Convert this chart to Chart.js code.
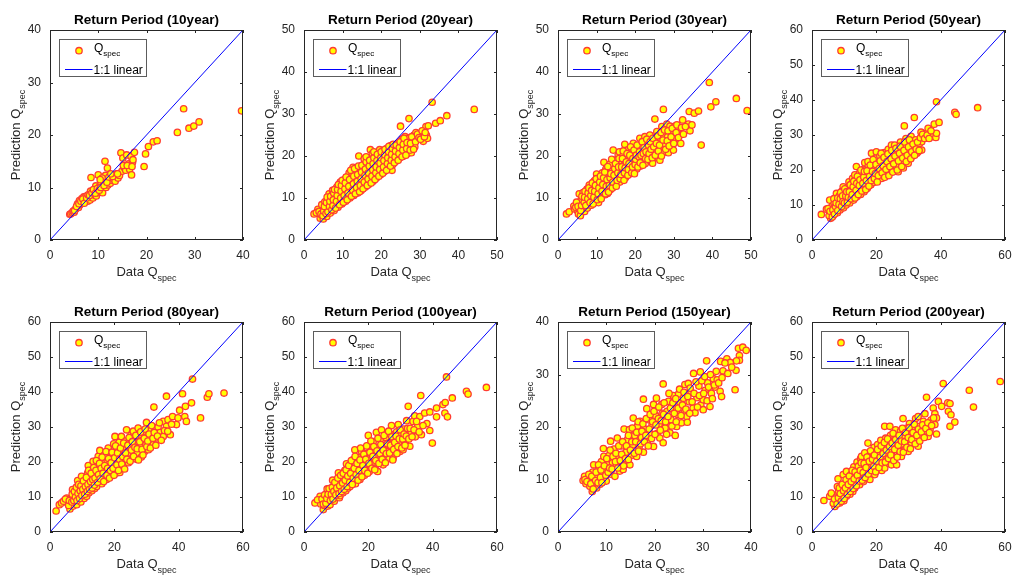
<!DOCTYPE html>
<html lang="en">
<head>
  <meta charset="UTF-8">
  <title>Return Period scatter</title>
  <script src="https://cdn.jsdelivr.net/npm/chart.js"></script>
  <style>
    html, body {
      margin: 0;
      padding: 0;
      background: #fff;
      overflow: hidden;
    }
    #wrap {
      position: relative;
      width: 1012px;
      height: 578px;
    }
    canvas {
      position: absolute;
    }
  </style>
</head>
<body>
  <div id="wrap"></div>

  <script>
    // Return periods (one panel each)
    const returnPeriods = [10, 20, 30, 50, 80, 100, 150, 200];
    const axisMax = [40, 50, 50, 60, 60, 60, 40, 60];
    const xTickStep = [10, 10, 10, 20, 20, 20, 10, 20];
    const yTickStep = [10, 10, 10, 10, 10, 10, 10, 10];

    // [Data Qspec, Prediction Qspec]
    const rp10 = [[4.1,4.9],[4.3,5.0],[4.6,5.2],[4.8,5.5],[5.0,5.3],[5.2,5.8],[5.4,6.0],[5.6,6.3],[5.7,6.9],[5.9,6.2],[6.1,7.5],[6.2,6.7],[6.5,7.0],[6.6,7.9],[6.9,7.3],[7.0,8.2],[7.3,7.6],[7.4,8.3],[7.8,7.4],[8.1,7.9],[8.3,7.6],[8.4,9.3],[8.5,11.9],[8.6,8.3],[8.9,8.0],[9.1,8.6],[9.3,9.4],[9.5,10.3],[9.6,8.4],[9.9,9.0],[10.0,12.4],[10.1,9.8],[10.3,10.2],[10.6,10.8],[10.9,9.0],[11.0,11.3],[11.4,15.0],[11.5,12.3],[11.6,10.0],[11.9,13.7],[12.0,10.5],[12.3,11.2],[12.5,10.8],[12.8,11.4],[13.2,11.6],[13.5,11.2],[13.8,12.6],[14.1,11.8],[14.4,12.3],[14.7,16.6],[14.9,13.1],[15.1,15.6],[15.4,13.8],[15.7,13.3],[15.9,16.2],[16.3,14.5],[16.5,13.5],[16.8,15.9],[16.9,12.4],[17.1,14.8],[17.2,15.3],[17.5,16.7],[19.5,14.0],[19.8,16.4],[20.4,17.8],[21.4,18.7],[22.2,18.9],[26.4,20.5],[27.7,25.0],[28.8,21.3],[29.8,21.7],[30.9,22.5],[39.7,24.6],
      [5.1,5.6],[5.5,6.4],[6.0,6.9],[6.4,7.4],[6.8,7.8],[7.1,7.0],[7.6,8.0],[7.9,8.6],[8.2,8.5],[8.7,9.0],[9.0,9.6],[9.4,8.9],[9.8,9.8],[10.2,9.5],[10.5,10.0],[10.8,11.8],[11.2,10.4],[11.8,11.0],[12.2,12.0],[13.0,12.1],[14.0,12.6],[15.2,14.2],[16.0,14.2],[17.0,14.0],[12.6,12.6],[10.4,11.5]];

    const rp20 = [[2.6,6.2],[3.6,7.3],[4.2,5.2],[4.5,6.0],[4.8,7.2],[4.6,8.4],[5.0,5.0],[5.2,6.6],[5.4,9.1],[5.5,7.8],[5.9,5.6],[6.1,7.0],[6.3,8.4],[6.4,9.9],[6.5,11.0],[6.8,6.4],[7.0,7.8],[7.1,9.3],[7.3,10.6],[7.4,11.8],[7.8,7.0],[8.0,8.6],[8.1,10.0],[8.3,11.4],[8.5,12.6],[8.8,7.8],[9.0,9.4],[9.1,10.9],[9.3,12.3],[9.4,13.8],[9.8,8.6],[10.0,10.0],[10.1,11.5],[10.3,13.0],[10.5,14.4],[10.8,9.2],[11.0,10.7],[11.1,12.2],[11.3,13.6],[11.5,15.2],[11.7,16.0],[11.9,10.0],[12.0,11.4],[12.2,12.8],[12.3,14.3],[12.5,15.8],[12.7,17.3],[12.9,10.6],[13.0,12.0],[13.2,13.5],[13.4,15.0],[13.6,16.5],[13.9,11.2],[14.0,12.7],[14.2,14.2],[14.3,15.7],[14.2,20.0],[14.5,17.2],[14.8,11.8],[15.0,13.4],[15.1,15.0],[15.3,16.5],[15.5,18.0],[15.6,19.3],[15.9,12.6],[16.0,14.1],[16.2,15.7],[16.3,17.2],[16.5,18.6],[16.8,13.3],[17.0,14.9],[17.1,16.4],[17.2,21.5],[17.3,17.9],[17.5,19.4],[17.7,20.6],[17.9,14.0],[18.0,15.6],[18.2,17.0],[18.3,18.5],[18.5,20.0],[18.8,14.8],[19.0,16.3],[19.1,17.8],[19.3,19.2],[19.5,20.6],[19.6,21.5],[19.9,15.6],[20.0,17.0],[20.2,18.5],[20.3,20.0],[20.5,21.3],[20.8,16.3],[21.0,17.8],[21.1,19.2],[21.3,20.6],[21.5,21.8],[21.9,17.0],[22.0,18.4],[22.2,19.8],[22.3,21.0],[22.5,22.5],[22.8,16.6],[23.0,18.0],[23.1,19.4],[23.3,20.8],[23.5,22.2],[23.9,18.8],[24.0,20.3],[24.2,21.6],[24.4,23.0],[24.8,19.6],[25.0,21.0],[25.0,27.1],[25.2,22.5],[25.4,24.0],[25.8,20.0],[26.0,21.5],[26.1,23.0],[26.2,24.6],[26.8,20.6],[27.0,22.2],[27.1,23.6],[27.2,28.9],[27.3,24.3],[27.8,20.8],[28.0,22.5],[28.2,24.2],[28.5,25.0],[28.7,22.2],[29.1,24.6],[29.0,25.6],[30.0,25.3],[30.4,25.0],[30.9,23.5],[31.6,27.0],[31.7,25.0],[32.0,24.2],[32.2,27.2],[33.2,32.8],[34.1,27.8],[35.3,28.4],[37.0,29.6],[44.1,31.1],
      [3.2,6.5],[3.9,6.8],[4.4,6.2],[4.9,5.8],[5.1,6.9],[5.3,8.0],[5.7,6.3],[5.8,8.9],[6.0,10.2],[6.2,6.7],[6.6,8.0],[6.7,9.2],[6.9,10.4],[7.2,7.2],[7.5,8.2],[7.6,9.6],[7.7,11.2],[7.9,12.0],[8.2,7.6],[8.4,9.2],[8.6,10.6],[8.7,12.0],[8.9,13.2],[9.2,8.4],[9.5,10.0],[9.6,11.6],[9.7,13.0],[9.9,14.2],[10.2,9.0],[10.4,10.6],[10.6,12.2],[10.7,13.6],[10.9,15.0],[11.2,9.6],[11.4,11.2],[11.6,12.8],[11.8,14.4],[12.1,16.6],[12.3,10.4],[12.6,11.9],[12.8,13.4],[12.9,15.2],[13.1,17.0],[13.3,11.0],[13.6,12.5],[13.8,14.0],[13.9,15.6],[14.1,17.6],[14.4,11.5],[14.6,13.0],[14.8,14.6],[14.9,16.2],[15.0,17.8],[15.3,12.2],[15.6,13.8],[15.8,15.4],[15.9,16.9],[16.1,18.6],[16.1,19.8],[16.4,13.0],[16.6,14.5],[16.7,16.0],[16.9,17.6],[17.0,19.0],[17.4,13.6],[17.6,15.2],[17.8,16.7],[17.9,18.2],[18.1,19.6],[18.1,21.0],[18.4,14.4],[18.6,16.0],[18.7,17.4],[18.9,18.9],[19.0,20.4],[19.4,15.2],[19.6,16.8],[19.7,18.3],[19.9,19.6],[20.0,21.0],[20.4,15.9],[20.6,17.4],[20.7,18.9],[20.9,20.3],[21.0,21.6],[21.4,16.6],[21.6,18.2],[21.7,19.6],[21.9,21.0],[22.0,22.3],[22.4,17.6],[22.6,19.0],[22.7,20.4],[22.9,21.8],[23.1,22.8],[23.4,18.4],[23.6,19.8],[23.7,21.2],[23.9,22.6],[24.4,19.0],[24.6,20.6],[24.7,22.0],[24.9,23.4],[25.4,19.8],[25.6,21.4],[25.7,22.8],[25.9,24.2],[26.4,20.2],[26.6,21.8],[26.7,23.2],[27.5,21.4],[27.6,23.0],[27.9,24.6],[28.4,21.6],[28.9,23.4],[29.4,25.2],[29.8,24.4],[30.2,24.0],[30.6,26.0],[31.2,24.6],[31.4,25.6]];

    const rp30 = [[2.2,6.2],[2.9,6.7],[4.1,8.1],[4.3,7.4],[5.0,7.0],[5.3,6.2],[5.5,11.0],[5.6,8.5],[5.8,5.8],[6.0,9.6],[6.3,7.3],[6.5,11.3],[6.6,8.2],[6.9,6.8],[7.1,9.4],[7.3,10.6],[7.5,12.1],[7.6,7.6],[7.9,8.8],[8.1,13.1],[8.2,10.0],[8.4,11.5],[8.6,8.3],[8.8,12.6],[9.0,9.5],[9.2,10.9],[9.4,14.1],[9.6,9.0],[9.8,12.2],[10.0,15.7],[10.1,10.4],[10.3,13.4],[10.5,8.9],[10.7,11.7],[10.9,14.6],[11.1,10.1],[11.3,12.9],[11.5,16.0],[11.7,11.2],[11.9,18.5],[12.0,14.2],[12.2,10.8],[12.4,16.9],[12.6,12.4],[12.8,11.1],[13.0,15.4],[13.2,13.7],[13.4,18.0],[13.6,12.0],[13.8,16.4],[14.0,14.6],[14.3,21.4],[14.4,12.8],[14.6,19.0],[14.8,15.9],[15.0,13.6],[15.2,17.6],[15.4,14.7],[15.6,20.3],[15.9,21.0],[16.0,13.8],[16.2,16.6],[16.4,18.9],[16.6,15.2],[16.8,20.0],[17.0,17.8],[17.3,22.8],[17.5,14.9],[17.6,19.5],[17.8,16.2],[18.0,21.4],[18.3,17.5],[18.5,19.0],[18.7,15.8],[19.0,20.8],[19.2,18.2],[19.5,23.0],[19.6,16.5],[19.9,19.7],[20.2,21.8],[20.4,16.9],[20.6,18.8],[20.9,20.6],[21.2,24.2],[21.4,17.6],[21.6,22.5],[21.9,19.5],[22.2,21.2],[22.5,24.6],[22.6,18.2],[22.9,23.0],[23.2,20.0],[23.5,21.9],[23.8,25.0],[24.0,18.8],[24.3,23.2],[24.5,18.3],[24.7,20.8],[25.0,22.4],[25.1,28.8],[25.3,24.4],[25.6,25.8],[25.9,19.6],[26.2,21.7],[26.4,19.0],[26.6,23.6],[26.9,27.0],[27.1,25.2],[27.3,31.1],[27.5,20.9],[27.8,22.8],[28.2,27.6],[28.4,24.6],[28.6,20.8],[29.0,27.1],[29.2,23.2],[29.5,25.6],[29.9,21.4],[30.3,27.1],[30.5,24.2],[31.0,26.2],[31.6,25.0],[31.8,23.0],[32.3,28.6],[33.8,27.6],[34.0,30.6],[34.2,26.0],[34.7,27.4],[35.3,30.2],[36.4,30.7],[37.1,22.6],[39.2,37.5],[39.6,31.7],[40.9,32.9],[46.2,33.7],[49.0,30.8],
      [4.6,7.8],[4.8,9.0],[5.2,8.0],[5.9,7.0],[6.1,8.2],[6.2,10.4],[6.8,9.0],[6.9,10.2],[7.0,11.6],[7.2,8.2],[7.7,9.8],[7.8,11.2],[8.0,12.4],[8.3,8.9],[8.5,10.6],[8.7,11.8],[8.9,13.6],[9.1,8.6],[9.3,10.2],[9.5,11.6],[9.7,13.0],[9.9,14.6],[10.2,9.6],[10.4,11.0],[10.6,12.4],[10.8,13.8],[11.0,15.2],[11.2,9.8],[11.4,11.6],[11.6,13.2],[11.8,14.8],[12.1,16.2],[12.3,11.0],[12.5,12.8],[12.7,14.4],[12.9,17.5],[13.1,11.4],[13.3,13.0],[13.5,14.8],[13.7,15.8],[13.9,19.2],[14.1,12.4],[14.2,13.8],[14.5,15.4],[14.7,17.0],[14.9,18.2],[15.1,12.8],[15.3,14.2],[15.5,16.0],[15.7,17.4],[15.8,19.4],[16.1,14.6],[16.3,15.6],[16.5,17.4],[16.7,19.4],[16.9,21.2],[17.1,14.2],[17.2,16.0],[17.4,17.2],[17.7,18.6],[17.9,20.6],[18.1,15.4],[18.2,16.8],[18.4,18.2],[18.6,20.2],[18.8,22.2],[19.1,16.0],[19.3,17.4],[19.4,19.4],[19.7,21.4],[19.8,15.8],[20.0,18.0],[20.1,19.2],[20.3,20.2],[20.5,22.6],[20.7,17.4],[21.0,19.8],[21.1,21.0],[21.3,18.4],[21.5,20.2],[21.8,23.4],[22.0,17.8],[22.1,20.6],[22.3,22.0],[22.7,19.4],[22.8,21.0],[23.0,24.0],[23.3,19.2],[23.4,22.6],[23.6,20.6],[23.9,23.4],[24.1,21.6],[24.4,19.6],[24.6,24.2],[24.8,22.2],[25.2,20.2],[25.5,23.0],[25.8,24.8],[26.0,21.2],[26.3,22.6],[26.7,25.6],[26.8,20.0],[27.2,23.8],[27.6,26.2],[27.9,21.6],[28.3,23.6],[28.5,26.0],[28.8,22.4],[29.3,24.6],[29.6,26.6],[30.0,23.0],[30.6,25.6],[30.8,27.4],[31.2,24.4],[32.0,26.8],[32.5,25.2],[33.0,27.0]];

    const rp50 = [[2.9,7.3],[4.5,8.8],[5.5,11.4],[5.8,6.2],[6.0,8.0],[6.2,9.6],[6.6,7.0],[6.9,10.4],[7.2,8.2],[7.6,13.3],[7.7,11.6],[7.9,7.8],[8.2,9.4],[8.5,12.6],[8.7,8.6],[9.0,10.8],[9.3,14.0],[9.7,15.2],[9.8,9.2],[10.0,12.0],[10.3,13.6],[10.6,10.0],[10.9,11.4],[11.2,15.0],[11.5,16.6],[11.7,10.6],[12.0,12.8],[12.3,14.4],[12.6,17.6],[12.9,11.4],[13.1,13.4],[13.3,18.6],[13.5,15.6],[13.8,21.0],[14.0,12.4],[14.2,16.8],[14.5,14.3],[14.8,19.2],[15.1,13.0],[15.4,15.5],[15.7,17.9],[16.0,20.2],[16.2,13.8],[16.4,22.1],[16.6,16.4],[16.9,18.8],[17.2,14.8],[17.5,21.2],[17.7,17.3],[18.0,19.8],[18.3,15.8],[18.5,24.8],[18.7,22.5],[19.0,18.0],[19.3,16.5],[19.5,20.6],[19.8,23.4],[20.0,25.2],[20.2,17.4],[20.5,19.4],[20.8,21.8],[21.1,24.0],[21.4,18.2],[21.6,17.6],[21.9,20.4],[22.2,22.8],[22.5,25.0],[22.8,19.0],[23.1,21.2],[23.4,23.6],[23.7,25.9],[24.0,19.6],[24.3,22.0],[24.7,27.1],[24.9,24.4],[25.2,20.4],[25.5,22.6],[25.7,27.1],[26.0,25.0],[26.3,21.0],[26.6,23.4],[26.8,19.5],[27.1,26.0],[27.5,28.0],[27.8,22.2],[28.1,24.6],[28.4,20.6],[28.7,32.6],[28.9,27.0],[29.2,29.0],[29.5,23.2],[29.9,21.9],[30.2,25.4],[30.5,27.8],[30.8,29.6],[31.2,24.0],[31.6,26.6],[31.8,35.0],[32.2,28.6],[32.6,24.8],[33.0,25.2],[33.4,27.6],[33.9,30.8],[34.1,28.1],[34.1,25.7],[35.4,30.5],[36.1,31.9],[36.7,30.5],[37.2,29.5],[38.0,33.1],[38.5,29.3],[38.7,30.5],[38.7,39.5],[39.5,33.6],[44.4,36.5],[44.8,35.9],[51.5,37.8],
      [5.0,9.0],[5.3,7.0],[5.6,8.2],[6.3,6.6],[6.5,8.6],[6.8,11.8],[7.0,7.4],[7.3,9.6],[7.5,10.6],[8.0,8.4],[8.0,12.0],[8.4,10.2],[8.8,11.8],[8.9,13.6],[9.2,9.6],[9.5,12.6],[9.6,11.0],[10.1,10.6],[10.2,14.6],[10.5,12.6],[10.8,13.8],[11.0,10.8],[11.3,12.2],[11.6,13.8],[11.9,15.8],[12.2,11.8],[12.5,13.0],[12.8,15.2],[13.0,16.8],[13.4,12.0],[13.7,14.2],[13.9,16.2],[14.1,18.2],[14.4,13.0],[14.7,15.6],[14.9,17.2],[15.2,20.0],[15.5,14.0],[15.8,16.2],[16.1,18.0],[16.3,19.6],[16.7,14.4],[16.9,17.0],[17.1,19.8],[17.4,22.4],[17.7,15.4],[17.9,18.2],[18.1,21.4],[18.4,17.0],[18.8,19.6],[19.0,23.0],[19.4,17.6],[19.7,19.0],[19.9,21.6],[20.3,16.6],[20.6,18.4],[20.9,20.4],[21.2,22.6],[21.5,24.8],[21.8,19.2],[22.1,21.2],[22.4,23.6],[22.6,17.9],[23.0,20.2],[23.3,22.4],[23.6,24.6],[23.9,18.4],[24.2,21.0],[24.6,23.2],[24.8,25.6],[25.1,19.4],[25.4,21.8],[25.8,24.0],[26.1,26.2],[26.5,20.0],[26.9,22.6],[27.2,24.8],[27.4,26.8],[27.9,21.0],[28.2,23.4],[28.6,25.6],[28.8,28.0],[29.3,22.4],[29.6,24.2],[30.0,26.6],[30.3,28.6],[30.7,23.2],[31.0,25.2],[31.4,27.4],[31.9,24.2],[32.4,26.0],[32.8,28.0],[33.3,25.6],[33.7,29.2],[34.4,30.2],[35.0,29.0],[35.8,30.0],[36.4,29.0],[37.0,31.2]];

    const rp80 = [[1.9,6.0],[2.9,7.8],[3.6,8.3],[5.2,9.7],[6.2,6.6],[6.4,8.0],[6.6,9.4],[7.0,12.1],[7.2,7.4],[7.5,10.2],[7.8,8.4],[8.1,11.3],[8.3,7.8],[8.6,14.7],[8.8,9.2],[9.0,12.4],[9.3,10.4],[9.6,8.6],[9.8,15.9],[10.0,11.0],[10.3,13.4],[10.6,9.6],[10.9,12.0],[11.2,14.6],[11.4,10.2],[11.7,16.8],[11.9,19.0],[12.1,11.2],[12.4,13.4],[12.7,15.8],[13.0,11.8],[13.2,17.9],[13.4,20.2],[13.6,14.0],[13.9,12.4],[14.2,16.2],[14.5,13.0],[14.7,18.8],[15.0,21.6],[15.3,14.6],[15.5,23.3],[15.8,17.0],[16.1,13.8],[16.4,19.6],[16.6,15.4],[16.9,22.0],[17.2,17.8],[17.6,15.0],[17.8,20.4],[18.1,24.0],[18.3,16.4],[18.6,18.6],[18.9,22.6],[19.2,17.0],[19.5,20.8],[19.8,25.2],[20.2,27.3],[20.3,18.0],[20.6,23.0],[20.9,16.9],[21.2,19.8],[21.5,25.6],[21.7,17.0],[22.0,21.8],[22.2,27.3],[22.5,23.8],[22.8,18.6],[23.1,20.4],[23.5,26.0],[23.8,29.2],[24.1,22.2],[24.4,19.8],[24.8,24.4],[25.1,27.6],[25.4,21.0],[25.9,28.8],[26.2,23.2],[26.5,25.8],[26.9,20.8],[27.2,22.6],[27.4,29.7],[27.7,27.0],[28.0,24.4],[28.4,21.4],[28.7,26.2],[29.0,28.4],[29.4,23.0],[29.8,25.0],[30.0,31.3],[30.2,27.2],[30.6,23.5],[31.0,29.0],[31.4,25.6],[31.8,27.8],[32.1,25.0],[32.3,35.7],[32.6,29.8],[33.1,26.9],[33.6,30.0],[34.2,28.4],[35.2,31.6],[35.2,27.3],[36.2,38.8],[36.2,30.2],[36.7,32.1],[37.4,27.8],[38.1,33.0],[39.3,30.7],[39.8,32.6],[40.3,34.8],[41.2,39.5],[41.9,33.0],[42.1,35.9],[42.4,31.6],[44.0,36.9],[44.3,43.7],[46.8,32.6],[48.9,38.5],[49.4,39.5],[54.1,39.7],
      [4.2,8.8],[4.8,9.4],[5.8,7.6],[6.0,9.0],[6.8,8.6],[6.9,10.8],[7.4,9.0],[7.6,11.6],[7.9,10.0],[8.2,12.8],[8.4,9.0],[8.7,11.0],[8.9,13.6],[9.2,9.6],[9.4,11.8],[9.6,13.2],[9.9,10.4],[10.2,12.2],[10.4,14.6],[10.8,10.8],[11.0,13.0],[11.3,15.6],[11.6,11.6],[11.8,13.6],[12.0,17.6],[12.3,12.2],[12.6,14.4],[12.8,16.8],[13.1,12.6],[13.3,15.0],[13.6,18.4],[13.8,13.4],[14.0,15.4],[14.3,17.6],[14.4,20.4],[14.8,14.2],[15.1,16.4],[15.4,19.6],[15.6,15.2],[15.9,18.2],[16.2,21.4],[16.5,16.8],[16.7,14.4],[17.0,19.0],[17.4,23.0],[17.7,16.2],[17.9,18.2],[18.2,21.0],[18.5,15.4],[18.8,17.6],[19.0,19.8],[19.3,22.8],[19.6,18.2],[19.9,16.2],[20.1,21.2],[20.4,24.6],[20.8,19.2],[21.0,22.6],[21.3,17.6],[21.6,20.8],[21.9,24.0],[22.3,19.4],[22.6,21.6],[22.9,25.4],[23.2,18.0],[23.5,22.6],[23.9,20.8],[24.2,24.8],[24.6,27.0],[24.9,20.2],[25.3,23.4],[25.6,25.8],[26.0,21.6],[26.4,24.2],[26.7,27.6],[27.1,23.8],[27.5,20.6],[27.9,25.8],[28.2,28.6],[28.6,23.6],[28.9,22.0],[29.3,26.8],[29.6,29.4],[30.1,24.4],[30.4,26.0],[30.8,28.0],[31.2,24.0],[31.6,30.4],[32.0,26.8],[32.4,28.4],[32.9,24.8],[33.4,27.4],[34.0,31.2],[34.6,26.2],[35.6,29.0],[36.6,28.8],[37.8,30.8]];

    const rp100 = [[3.4,8.3],[5.0,10.2],[5.2,8.0],[6.0,6.4],[6.3,7.6],[6.6,9.0],[7.0,11.0],[7.2,12.3],[7.4,7.4],[7.7,8.8],[8.0,10.4],[8.1,7.8],[8.4,12.0],[8.7,9.4],[8.9,14.8],[9.1,11.0],[9.4,8.8],[9.7,13.2],[10.0,10.0],[10.3,11.8],[10.7,16.9],[10.6,14.0],[11.0,9.8],[11.2,10.4],[11.5,12.6],[11.8,15.2],[12.1,11.2],[12.4,13.8],[12.7,17.6],[13.0,11.8],[13.2,19.5],[13.4,15.0],[13.7,12.6],[14.0,16.6],[14.3,13.0],[14.6,18.4],[14.9,14.4],[15.2,20.6],[15.5,16.0],[15.8,23.5],[16.0,13.8],[16.3,17.8],[16.6,15.2],[16.9,21.2],[17.2,19.2],[17.4,15.0],[17.7,16.6],[17.9,23.0],[18.2,18.2],[18.5,20.4],[18.8,16.2],[19.1,22.4],[19.4,17.6],[19.7,19.4],[20.0,27.6],[20.0,24.6],[20.3,17.3],[20.6,21.2],[20.9,18.6],[21.2,23.4],[21.5,25.8],[21.8,20.0],[22.1,18.2],[22.5,28.5],[22.4,22.0],[22.9,17.3],[23.1,24.2],[23.4,20.6],[23.7,26.4],[24.1,29.2],[24.0,22.4],[24.6,19.2],[24.9,24.6],[25.2,21.2],[25.5,27.0],[25.8,23.0],[26.2,25.4],[26.5,21.0],[26.8,28.0],[27.2,30.4],[27.4,23.6],[27.7,21.1],[28.0,26.2],[28.4,24.0],[28.8,28.6],[29.3,30.7],[29.4,25.2],[29.8,23.0],[30.2,27.6],[30.8,23.5],[31.0,29.4],[31.5,25.8],[31.9,31.8],[32.4,35.9],[32.9,24.5],[33.2,28.0],[33.9,31.6],[34.4,33.2],[34.6,27.2],[35.3,30.0],[36.0,33.0],[36.3,39.0],[36.5,27.8],[37.5,34.0],[38.2,31.0],[39.1,34.3],[39.1,29.0],[39.9,25.4],[41.2,35.4],[41.2,32.9],[43.2,36.4],[43.8,34.0],[43.9,37.0],[44.3,44.3],[44.6,32.9],[46.1,38.3],[50.5,40.2],[51.0,39.4],[56.7,41.3],
      [4.2,9.2],[5.6,9.4],[6.0,8.0],[6.4,10.6],[6.8,8.2],[7.1,9.6],[7.5,10.8],[7.8,12.4],[8.2,9.0],[8.5,10.8],[8.8,12.8],[9.0,9.4],[9.3,11.6],[9.6,14.2],[9.9,10.6],[10.2,12.6],[10.5,15.4],[10.9,11.0],[11.1,13.2],[11.4,16.2],[11.7,11.6],[12.0,14.0],[12.2,16.8],[12.5,12.2],[12.8,14.8],[13.1,17.8],[13.4,13.0],[13.6,16.0],[13.9,19.0],[14.2,14.2],[14.5,16.8],[14.7,20.4],[15.0,13.6],[15.3,15.4],[15.6,18.2],[15.9,21.6],[16.2,16.4],[16.5,19.6],[16.8,14.8],[17.1,17.6],[17.4,20.6],[17.6,24.0],[18.0,15.8],[18.3,19.0],[18.6,22.2],[18.9,17.6],[19.2,20.8],[19.5,24.6],[19.8,16.8],[20.2,19.6],[20.5,22.8],[20.8,26.0],[21.1,18.2],[21.4,21.6],[21.7,24.4],[22.0,17.8],[22.3,20.4],[22.7,23.2],[23.0,26.8],[23.3,19.6],[23.6,22.4],[23.9,25.0],[24.3,20.8],[24.6,23.4],[24.9,27.6],[25.3,19.8],[25.6,22.4],[25.9,25.2],[26.3,28.8],[26.6,22.6],[26.9,24.8],[27.3,27.2],[27.6,20.6],[27.9,23.6],[28.2,25.6],[28.6,27.4],[28.9,22.4],[29.2,24.4],[29.6,26.6],[29.9,29.2],[30.4,24.0],[30.7,26.6],[31.1,28.0],[31.4,24.8],[31.8,27.4],[32.2,29.6],[32.6,26.6],[33.0,29.6],[33.6,27.2],[34.2,29.2],[35.0,31.6],[35.8,28.6],[37.0,30.4]];

    const rp150 = [[5.2,9.8],[5.5,10.6],[5.8,9.2],[6.2,10.2],[6.6,10.0],[6.6,8.7],[7.0,9.4],[7.1,7.7],[7.2,11.4],[7.4,12.8],[7.6,8.6],[8.0,8.4],[8.2,10.6],[8.5,12.0],[8.7,9.1],[9.0,13.4],[9.2,10.2],[9.4,15.9],[9.5,14.4],[9.8,11.6],[10.0,9.7],[10.3,12.8],[10.6,14.6],[10.9,17.3],[11.0,11.0],[11.3,13.2],[11.6,15.8],[11.8,10.6],[12.1,12.6],[12.3,17.9],[12.5,14.4],[12.8,11.6],[13.1,16.4],[13.5,11.9],[13.7,19.6],[13.8,13.6],[14.1,15.2],[14.4,17.6],[14.8,19.5],[14.9,12.8],[15.2,14.6],[15.6,21.7],[15.5,16.6],[15.9,18.4],[16.3,14.4],[16.5,20.2],[16.8,16.0],[17.0,21.1],[17.3,18.0],[17.7,25.3],[17.7,15.2],[18.0,19.6],[18.4,23.5],[18.5,17.2],[18.8,21.4],[19.2,18.6],[19.5,20.4],[19.8,16.3],[19.8,24.3],[20.2,22.2],[20.4,25.5],[20.6,18.8],[21.1,17.9],[21.0,20.6],[21.5,24.3],[21.6,22.6],[21.8,28.2],[21.8,17.0],[22.2,19.8],[22.6,23.0],[22.9,24.9],[23.2,18.9],[23.4,21.4],[23.9,26.0],[24.0,23.4],[24.3,18.4],[24.6,20.1],[24.8,22.4],[25.0,26.3],[25.3,24.6],[25.6,20.8],[26.0,25.5],[26.3,28.1],[26.2,22.8],[26.7,22.0],[26.8,20.9],[27.0,28.3],[27.2,24.8],[27.6,26.6],[28.1,30.2],[28.0,23.6],[28.4,22.7],[28.8,25.6],[29.2,27.8],[29.5,30.5],[29.6,24.2],[30.1,25.2],[30.1,23.3],[30.5,27.0],[30.8,32.6],[31.0,28.4],[31.5,23.9],[31.8,26.4],[32.2,29.2],[32.6,27.6],[33.0,29.0],[33.6,26.8],[33.7,32.5],[33.9,25.8],[34.2,30.7],[35.0,33.0],[35.7,32.3],[36.7,27.1],[36.9,30.8],[37.4,35.0],[37.6,33.6],[37.6,32.7],[38.3,35.2],[39.0,34.6],
      [5.6,10.0],[6.0,9.6],[6.4,11.0],[6.8,9.2],[7.0,10.6],[7.3,8.2],[7.8,9.8],[7.9,11.4],[8.3,9.4],[8.4,12.8],[8.8,10.4],[8.9,11.8],[9.1,9.4],[9.6,12.6],[9.9,10.8],[10.1,14.0],[10.4,11.4],[10.7,12.2],[10.8,15.6],[11.2,12.0],[11.4,14.4],[11.9,13.4],[12.0,15.0],[12.4,12.2],[12.6,16.4],[12.9,13.6],[13.2,14.8],[13.4,17.2],[13.6,12.6],[14.0,14.0],[14.2,16.4],[14.6,18.4],[14.6,13.8],[15.0,15.6],[15.3,17.2],[15.4,19.8],[15.8,15.0],[16.1,17.2],[16.3,19.0],[16.6,21.0],[16.7,15.4],[17.1,16.8],[17.4,19.2],[17.6,20.6],[17.9,17.2],[18.2,18.4],[18.3,21.6],[18.7,16.4],[18.9,19.6],[19.1,22.4],[19.4,17.8],[19.6,21.0],[19.9,23.0],[20.1,18.6],[20.3,20.4],[20.8,21.6],[20.9,23.8],[21.2,19.4],[21.4,21.2],[21.9,22.4],[22.0,24.6],[22.3,21.0],[22.5,18.6],[22.8,22.0],[23.0,26.4],[23.3,23.6],[23.6,20.2],[23.8,24.6],[24.1,22.6],[24.4,25.4],[24.5,21.0],[24.9,23.6],[25.2,27.2],[25.5,22.2],[25.8,24.2],[26.1,26.6],[26.5,23.4],[26.9,25.8],[27.3,22.6],[27.4,27.4],[27.8,24.8],[28.2,26.4],[28.6,28.6],[28.9,23.8],[29.3,26.0],[29.8,28.8],[30.2,26.4],[30.4,29.6],[30.9,25.0],[31.2,27.6],[31.6,30.0],[32.0,25.4],[32.4,28.0],[32.8,30.6],[33.3,28.4],[34.0,29.4],[34.6,32.2],[35.2,30.2],[36.0,31.4],[37.0,32.6]];

    const rp200 = [[3.7,9.0],[5.5,10.2],[6.0,11.1],[7.1,7.3],[7.4,8.6],[7.6,10.0],[7.9,13.0],[8.1,15.2],[8.3,11.6],[8.6,8.3],[8.9,9.6],[9.2,12.4],[9.7,16.4],[9.5,10.8],[9.9,8.9],[10.2,13.8],[10.5,11.4],[10.7,10.2],[10.7,17.3],[11.1,15.0],[11.4,12.4],[11.8,10.8],[12.1,16.4],[12.4,13.4],[12.7,11.6],[13.0,18.6],[13.3,12.6],[13.6,15.4],[14.0,20.0],[14.2,13.8],[14.5,17.2],[14.8,13.5],[15.1,21.0],[15.4,21.6],[15.4,16.0],[15.7,18.8],[16.0,14.4],[16.4,22.6],[16.6,17.2],[16.9,20.2],[17.4,25.4],[17.2,15.6],[17.6,18.4],[18.0,15.0],[18.0,22.0],[18.4,19.6],[18.7,16.8],[19.0,22.6],[19.3,24.2],[19.5,16.4],[19.7,20.8],[20.1,18.0],[20.4,25.0],[20.7,22.4],[21.0,19.2],[21.4,26.2],[21.7,17.6],[22.0,23.4],[22.3,20.6],[22.6,30.2],[22.6,18.3],[22.9,26.8],[23.2,21.8],[23.6,24.6],[24.0,19.6],[24.2,30.2],[24.4,27.6],[24.7,19.2],[24.8,23.0],[25.2,25.6],[25.6,21.2],[25.8,27.3],[26.0,29.2],[26.3,19.2],[26.4,23.8],[26.8,26.2],[27.2,22.2],[27.5,28.8],[27.8,21.6],[28.0,25.0],[28.3,32.4],[28.5,27.0],[28.9,23.6],[29.3,29.6],[29.6,25.8],[29.9,23.0],[30.3,31.0],[30.4,27.8],[30.8,25.0],[31.3,29.0],[31.8,26.6],[32.2,32.4],[32.4,28.0],[33.0,33.0],[33.0,24.5],[33.5,30.2],[34.0,27.2],[34.6,31.6],[35.1,33.8],[35.6,38.5],[35.4,28.6],[36.1,27.3],[36.7,29.2],[37.0,32.0],[37.7,35.4],[38.2,33.8],[38.2,30.7],[38.7,32.6],[38.7,28.0],[39.3,37.3],[40.3,35.9],[40.8,42.4],[42.2,36.9],[42.4,34.5],[42.9,36.7],[42.9,30.2],[43.2,33.5],[44.4,31.4],[48.9,40.5],[50.2,35.7],[58.5,43.0],
      [6.6,8.2],[7.0,9.4],[7.8,8.0],[8.2,9.8],[8.5,12.6],[8.8,11.0],[9.1,8.8],[9.4,13.6],[9.8,11.8],[10.0,9.6],[10.4,12.6],[10.6,15.0],[11.0,10.8],[11.3,13.6],[11.6,16.0],[11.9,11.6],[12.2,14.4],[12.5,17.6],[12.8,12.4],[13.1,15.2],[13.4,17.2],[13.8,13.2],[14.1,16.2],[14.4,18.8],[14.7,14.6],[15.0,17.6],[15.3,19.8],[15.6,14.8],[15.9,17.0],[16.2,19.6],[16.5,15.6],[16.8,18.4],[17.1,21.4],[17.5,16.6],[17.8,20.2],[18.2,23.2],[18.5,17.6],[18.8,20.8],[19.2,18.8],[19.4,22.0],[19.8,17.2],[20.1,20.2],[20.4,23.6],[20.8,18.4],[21.2,21.4],[21.5,24.6],[21.8,19.8],[22.1,22.4],[22.5,25.6],[22.8,20.0],[23.1,23.4],[23.5,26.6],[23.8,21.0],[24.1,24.4],[24.5,22.0],[24.9,25.4],[25.2,28.2],[25.4,20.4],[25.7,23.6],[26.0,26.4],[26.5,21.4],[26.8,24.8],[27.1,27.6],[27.4,23.0],[27.8,26.0],[28.1,29.6],[28.4,22.8],[28.8,25.8],[29.1,28.4],[29.5,24.2],[29.9,27.0],[30.2,29.8],[30.6,23.8],[31.0,26.4],[31.4,28.4],[31.8,30.8],[32.1,25.2],[32.6,27.6],[33.1,29.4],[33.5,26.0],[34.0,28.6],[34.4,30.6],[34.9,27.0],[35.4,29.6],[36.0,31.2],[36.5,28.4],[37.2,30.4],[37.8,32.6]];

    const panelData = [rp10, rp20, rp30, rp50, rp80, rp100, rp150, rp200];

    const FONT = '"Liberation Sans", Arial, Helvetica, sans-serif';
    const AXIS_COLOR = '#262626';
    const EDGE = '#FF3C32';
    const FILL = '#FFFF00';

    // text with a subscript part, starting at x on baseline y
    function subText(ctx, main, sub, x, y, size, subSize, drop, align) {
      ctx.font = size + 'px ' + FONT;
      const w1 = ctx.measureText(main).width;
      ctx.font = subSize + 'px ' + FONT;
      const w2 = ctx.measureText(sub).width;
      const x0 = align === 'center' ? x - (w1 + w2) / 2 : x;
      ctx.textAlign = 'left';
      ctx.textBaseline = 'alphabetic';
      ctx.font = size + 'px ' + FONT;
      ctx.fillText(main, x0, y);
      ctx.font = subSize + 'px ' + FONT;
      ctx.fillText(sub, x0 + w1, y + drop);
    }

    const matlabAxes = {
      id: 'matlabAxes',
      afterDraw(chart, args, opts) {
        const { ctx, chartArea: a, scales } = chart;
        const cx = (a.left + a.right) / 2;
        const cy = (a.top + a.bottom) / 2;
        ctx.save();

        // box and inward ticks on all four sides
        ctx.strokeStyle = AXIS_COLOR;
        ctx.lineWidth = 1;
        ctx.strokeRect(a.left + 0.5, a.top + 0.5, a.width - 1, a.height - 1);
        ctx.beginPath();
        scales.x.ticks.forEach(t => {
          const px = Math.round(scales.x.getPixelForValue(t.value)) + 0.5;
          ctx.moveTo(px, a.bottom); ctx.lineTo(px, a.bottom - 3);
          ctx.moveTo(px, a.top); ctx.lineTo(px, a.top + 3);
        });
        scales.y.ticks.forEach(t => {
          const py = Math.round(scales.y.getPixelForValue(t.value)) + 0.5;
          ctx.moveTo(a.left, py); ctx.lineTo(a.left + 3, py);
          ctx.moveTo(a.right, py); ctx.lineTo(a.right - 3, py);
        });
        ctx.stroke();

        // title
        ctx.fillStyle = '#000';
        ctx.font = 'bold 13.5px ' + FONT;
        ctx.textAlign = 'center';
        ctx.textBaseline = 'alphabetic';
        ctx.fillText(opts.title, cx, a.top - 6);

        // axis titles
        ctx.fillStyle = AXIS_COLOR;
        subText(ctx, 'Data Q', 'spec', cx, a.bottom + 36, 13, 9, 4.5, 'center');
        ctx.save();
        ctx.translate(a.left - 30, cy);
        ctx.rotate(-Math.PI / 2);
        subText(ctx, 'Prediction Q', 'spec', 0, 0, 13, 9, 4.5, 'center');
        ctx.restore();

        // legend
        const bx = a.left + 9, by = a.top + 9;
        ctx.fillStyle = '#fff';
        ctx.fillRect(bx, by, 87, 37);
        ctx.strokeStyle = 'rgba(38,38,38,0.75)';
        ctx.strokeRect(bx + 0.5, by + 0.5, 87, 37);

        ctx.beginPath();
        ctx.arc(bx + 20, by + 11.7, 3.2, 0, Math.PI * 2);
        ctx.fillStyle = FILL;
        ctx.fill();
        ctx.strokeStyle = EDGE;
        ctx.lineWidth = 1.3;
        ctx.stroke();
        ctx.lineWidth = 1;

        ctx.beginPath();
        ctx.moveTo(bx + 6, by + 30.5);
        ctx.lineTo(bx + 33.5, by + 30.5);
        ctx.strokeStyle = '#0000FF';
        ctx.stroke();

        ctx.fillStyle = '#000';
        subText(ctx, 'Q', 'spec', bx + 35, by + 13, 12, 8, 3.5, 'left');
        ctx.font = '12px ' + FONT;
        ctx.fillText('1:1 linear', bx + 34.5, by + 34.5);

        ctx.restore();
      }
    };

    const wrap = document.getElementById('wrap');
    const plotLefts = [50, 304, 558, 812];
    const plotTops = [30, 322];

    returnPeriods.forEach((rp, i) => {
      const col = i % 4, row = Math.floor(i / 4);
      const canvas = document.createElement('canvas');
      canvas.width = 250;
      canvas.height = 286;
      canvas.style.left = (plotLefts[col] - 50) + 'px';
      canvas.style.top = (plotTops[row] - 30) + 'px';
      canvas.style.width = '250px';
      canvas.style.height = '286px';
      wrap.appendChild(canvas);

      const m = axisMax[i];
      const tickFont = { family: FONT, size: 12 };

      new Chart(canvas.getContext('2d'), {
        type: 'scatter',
        data: {
          datasets: [
            {
              type: 'line',
              label: '1:1 linear',
              data: [{ x: 0, y: 0 }, { x: m, y: m }],
              borderColor: '#0000FF',
              borderWidth: 1,
              pointRadius: 0,
              order: 0
            },
            {
              label: 'Qspec',
              data: panelData[i].map(p => ({ x: p[0], y: p[1] })),
              backgroundColor: FILL,
              borderColor: EDGE,
              borderWidth: 1.3,
              pointRadius: 3.2,
              order: 1
            }
          ]
        },
        options: {
          responsive: false,
          animation: false,
          layout: { padding: { top: 30, left: 0, right: 7, bottom: 0 } },
          scales: {
            x: {
              type: 'linear',
              min: 0,
              max: m,
              ticks: { stepSize: xTickStep[i], color: AXIS_COLOR, font: tickFont, padding: 8, maxRotation: 0 },
              grid: { display: false, drawTicks: false },
              border: { display: false },
              afterFit(scale) { scale.height = 46; scale.paddingLeft = 0; scale.paddingRight = 0; }
            },
            y: {
              type: 'linear',
              min: 0,
              max: m,
              ticks: { stepSize: yTickStep[i], color: AXIS_COLOR, font: tickFont, padding: 9 },
              grid: { display: false, drawTicks: false },
              border: { display: false },
              afterFit(scale) { scale.width = 50; scale.paddingTop = 0; scale.paddingBottom = 0; }
            }
          },
          plugins: {
            legend: { display: false },
            tooltip: { enabled: false },
            matlabAxes: { title: 'Return Period (' + rp + 'year)' }
          }
        },
        plugins: [matlabAxes]
      });
    });
  </script>
</body>
</html>
